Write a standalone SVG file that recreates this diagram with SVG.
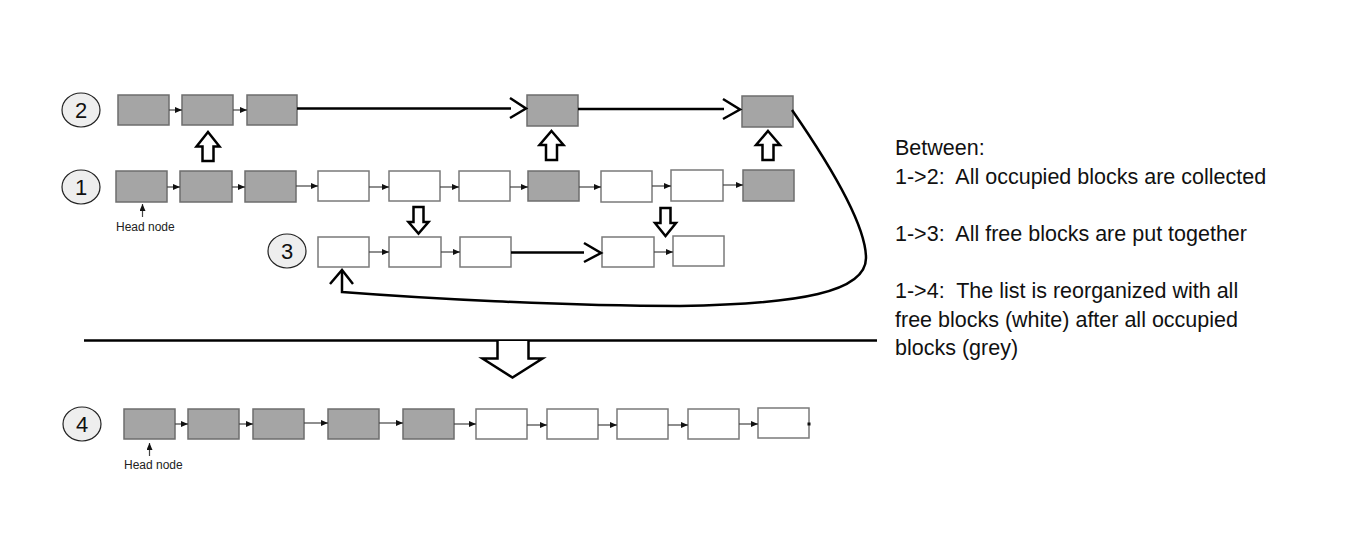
<svg xmlns="http://www.w3.org/2000/svg" width="1346" height="559" viewBox="0 0 1346 559">
<defs>
<marker id="ah" markerWidth="8" markerHeight="6" refX="7" refY="3" orient="auto" markerUnits="userSpaceOnUse">
<path d="M0,0 L7,3 L0,6 Z" fill="#111"/>
</marker>
<style>
.g{fill:#a5a5a5;stroke:#6e6e6e;stroke-width:1.5}
.w{fill:#fff;stroke:#7a7a7a;stroke-width:1.5}
.c{fill:none;stroke:#444;stroke-width:1.2;marker-end:url(#ah)}
.thick{fill:none;stroke:#000;stroke-width:2.5}
.hol{fill:#fff;stroke:#000;stroke-width:2.5;stroke-linejoin:miter}
.circ{fill:#eeeeee;stroke:#222;stroke-width:1.2}
.num{font-family:"Liberation Sans",Arial,sans-serif;font-size:22px;fill:#111;text-anchor:middle}
.hn{font-family:"Liberation Sans",Arial,sans-serif;font-size:12px;fill:#222}
.t{font-family:"Liberation Sans",Arial,sans-serif;font-size:21.5px;fill:#111;white-space:pre}
</style>
</defs>
<rect width="1346" height="559" fill="#fff"/>

<!-- Labels (circles) -->
<g id="label-2"><ellipse class="circ" cx="81" cy="110" rx="19" ry="17"/><text class="num" x="81" y="118">2</text></g>
<g id="label-1"><ellipse class="circ" cx="81" cy="187" rx="19" ry="17"/><text class="num" x="81" y="195">1</text></g>
<g id="label-3"><ellipse class="circ" cx="287" cy="251" rx="19" ry="17"/><text class="num" x="287" y="259">3</text></g>
<g id="label-4"><ellipse class="circ" cx="82" cy="424" rx="19" ry="17"/><text class="num" x="82" y="432">4</text></g>

<!-- Row 2 -->
<g id="r2n1"><rect class="g" x="118" y="95" width="51" height="30"/></g>
<g id="r2n2"><rect class="g" x="182" y="95" width="51" height="30"/></g>
<g id="r2n3"><rect class="g" x="247" y="95" width="50" height="30"/></g>
<g id="r2n4"><rect class="g" x="527" y="95" width="51" height="31"/></g>
<g id="r2n5"><rect class="g" x="742" y="96" width="51" height="31"/></g>

<!-- Row 1 -->
<g id="r1n1"><rect class="g" x="116" y="171" width="51" height="31"/></g>
<g id="r1n2"><rect class="g" x="180" y="171" width="52" height="31"/></g>
<g id="r1n3"><rect class="g" x="245" y="171" width="51" height="31"/></g>
<g id="r1n4"><rect class="w" x="318" y="171" width="51" height="30"/></g>
<g id="r1n5"><rect class="w" x="389" y="171" width="51" height="30"/></g>
<g id="r1n6"><rect class="w" x="459" y="171" width="51" height="30"/></g>
<g id="r1n7"><rect class="g" x="528" y="171" width="51" height="30"/></g>
<g id="r1n8"><rect class="w" x="601" y="171" width="51" height="31"/></g>
<g id="r1n9"><rect class="w" x="671" y="170" width="52" height="31"/></g>
<g id="r1n10"><rect class="g" x="743" y="170" width="51" height="31"/></g>
<g id="head1"><text class="hn" x="116" y="231">Head node</text></g>

<!-- Row 3 -->
<g id="r3n1"><rect class="w" x="318" y="237" width="51" height="30"/></g>
<g id="r3n2"><rect class="w" x="389" y="237" width="52" height="30"/></g>
<g id="r3n3"><rect class="w" x="460" y="237" width="51" height="30"/></g>
<g id="r3n4"><rect class="w" x="602" y="237" width="52" height="30"/></g>
<g id="r3n5"><rect class="w" x="673" y="236" width="51" height="30"/></g>

<!-- Row 4 -->
<g id="r4n1"><rect class="g" x="124" y="409" width="51" height="30"/></g>
<g id="r4n2"><rect class="g" x="188" y="409" width="51" height="30"/></g>
<g id="r4n3"><rect class="g" x="253" y="409" width="51" height="30"/></g>
<g id="r4n4"><rect class="g" x="328" y="409" width="51" height="30"/></g>
<g id="r4n5"><rect class="g" x="403" y="409" width="51" height="30"/></g>
<g id="r4n6"><rect class="w" x="476" y="409" width="51" height="30"/></g>
<g id="r4n7"><rect class="w" x="547" y="409" width="51" height="30"/></g>
<g id="r4n8"><rect class="w" x="617" y="409" width="51" height="30"/></g>
<g id="r4n9"><rect class="w" x="688" y="409" width="51" height="30"/></g>
<g id="r4n10"><rect class="w" x="758" y="408" width="51" height="30"/></g>
<g id="head4"><text class="hn" x="124" y="469">Head node</text></g>

<!-- Explanation text -->
<g id="explanation">
<text class="t" x="895" y="155">Between:</text>
<text class="t" x="895" y="183.5" xml:space="preserve">1-&gt;2:  All occupied blocks are collected</text>
<text class="t" x="895" y="241" xml:space="preserve">1-&gt;3:  All free blocks are put together</text>
<text class="t" x="895" y="298" xml:space="preserve">1-&gt;4:  The list is reorganized with all</text>
<text class="t" x="895" y="326.5">free blocks (white) after all occupied</text>
<text class="t" x="895" y="355">blocks (grey)</text>
</g>

<g id="connectors">
<!-- row 2 -->
<line class="c" x1="169" y1="110" x2="182" y2="110"/>
<line class="c" x1="233" y1="110" x2="247" y2="110"/>
<line class="thick" x1="297" y1="108.5" x2="511" y2="108.5"/>
<polyline class="thick" points="510,98 526,108.5 510,118"/>
<line class="thick" x1="578" y1="109" x2="724" y2="109"/>
<polyline class="thick" points="723,99 740,109.5 723,119"/>
<!-- row 1 -->
<line class="c" x1="167" y1="187" x2="180" y2="187"/>
<line class="c" x1="232" y1="187" x2="245" y2="187"/>
<line class="c" x1="296" y1="186" x2="318" y2="186"/>
<line class="c" x1="369" y1="187" x2="389" y2="187"/>
<line class="c" x1="440" y1="187" x2="459" y2="187"/>
<line class="c" x1="510" y1="187" x2="528" y2="187"/>
<line class="c" x1="579" y1="187" x2="601" y2="187"/>
<line class="c" x1="652" y1="186" x2="671" y2="186"/>
<line class="c" x1="723" y1="185" x2="743" y2="185"/>
<!-- row 3 -->
<line class="c" x1="369" y1="252" x2="389" y2="252"/>
<line class="c" x1="441" y1="252" x2="460" y2="252"/>
<line class="thick" x1="511" y1="252.5" x2="584" y2="252.5"/>
<polyline class="thick" points="584,243 601,253 584,262"/>
<line class="c" x1="654" y1="252" x2="673" y2="252"/>
<!-- row 4 -->
<line class="c" x1="175" y1="424" x2="188" y2="424"/>
<line class="c" x1="239" y1="424" x2="253" y2="424"/>
<line class="c" x1="304" y1="423" x2="328" y2="423"/>
<line class="c" x1="379" y1="423" x2="403" y2="423"/>
<line class="c" x1="454" y1="424" x2="476" y2="424"/>
<line class="c" x1="527" y1="425" x2="547" y2="425"/>
<line class="c" x1="598" y1="425" x2="617" y2="425"/>
<line class="c" x1="668" y1="425" x2="688" y2="425"/>
<line class="c" x1="739" y1="424" x2="758" y2="424"/>
<rect x="807.5" y="422.5" width="3" height="3" fill="#111"/>
<!-- head node arrows -->
<line class="c" x1="142.5" y1="217" x2="142.5" y2="204"/>
<line class="c" x1="149.5" y1="456" x2="149.5" y2="443"/>
<!-- curve from 2 back to 3 -->
<path class="thick" d="M792,110 C830,165 866,225 866,258 C866,292 800,304 680,306 C560,306 420,298 342,292 L342,271"/>
<polyline class="thick" points="330,284 342,270 353,284"/>
<!-- hollow up arrows (1 -> 2) -->
<path class="hol" d="M208,132 L219.5,146.5 L213.5,146.5 L213.5,161 L202.5,161 L202.5,146.5 L196.5,146.5 Z"/>
<path class="hol" d="M551.5,131 L563.5,145 L557,145 L557,160 L546,160 L546,145 L539.5,145 Z"/>
<path class="hol" d="M768,131 L780,145 L773.5,145 L773.5,160 L762.5,160 L762.5,145 L756,145 Z"/>
<!-- hollow down arrows (1 -> 3) -->
<path class="hol" d="M413.5,207 L423.5,207 L423.5,222 L428.5,222 L418.5,233.5 L408.5,222 L413.5,222 Z"/>
<path class="hol" d="M660.5,208 L670.5,208 L670.5,223 L676,223 L665.5,236 L655,223 L660.5,223 Z"/>
<!-- separator and big down arrow -->
<line class="thick" x1="84" y1="340.5" x2="877" y2="340.5"/>
<path class="hol" d="M497.5,341 L497.5,358.5 L482.5,358.5 L512.5,377.5 L542.5,358.5 L528.5,358.5 L528.5,341"/>
</g>
</svg>
